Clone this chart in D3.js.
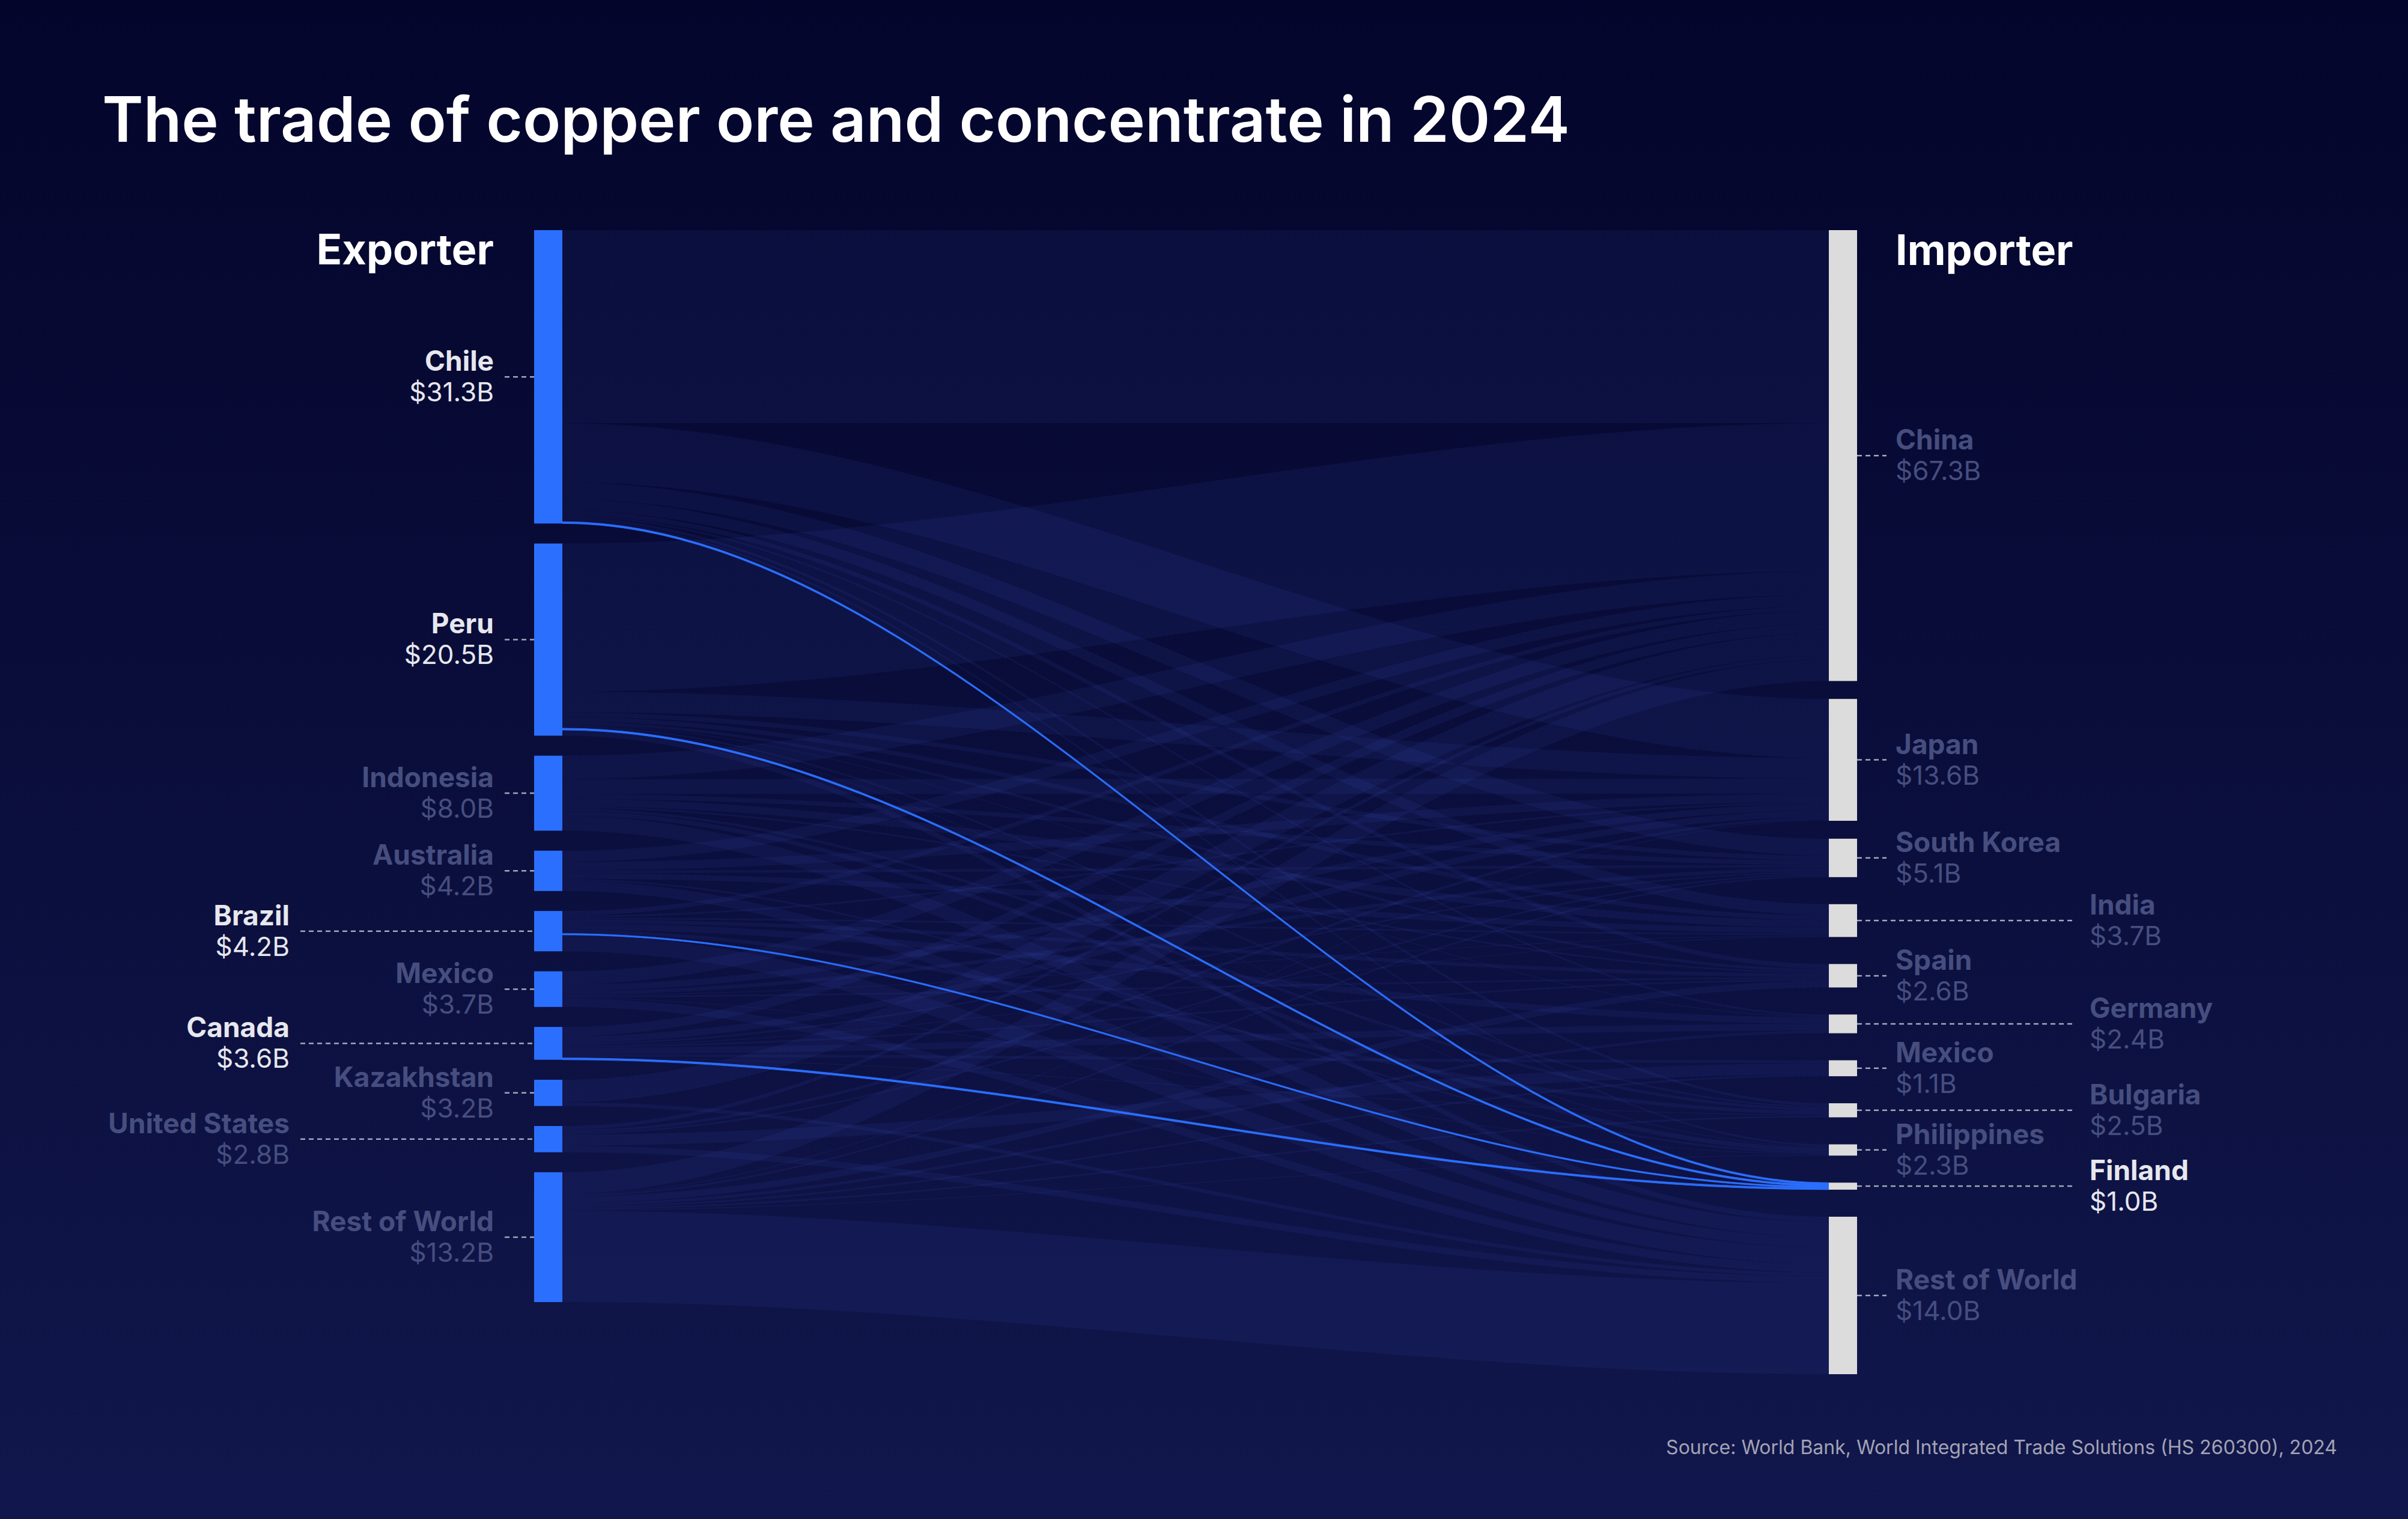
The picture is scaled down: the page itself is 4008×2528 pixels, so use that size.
<!DOCTYPE html>
<html><head><meta charset="utf-8">
<script src="https://cdn.jsdelivr.net/npm/d3@7"></script>
<style>html,body{margin:0;padding:0;background:#060930;} svg{display:block}</style>
</head><body>
<svg id="chart" width="4008" height="2528"></svg>
<script>
// ---------- DATA ----------
const title = "The trade of copper ore and concentrate in 2024";
const source = "Source: World Bank, World Integrated Trade Solutions (HS 260300), 2024";
const exporters = ["Chile","Peru","Indonesia","Australia","Brazil","Mexico","Canada","Kazakhstan","United States","Rest of World"];
const exporterLabels = ["$31.3B","$20.5B","$8.0B","$4.2B","$4.2B","$3.7B","$3.6B","$3.2B","$2.8B","$13.2B"];
const importers = ["China","Japan","South Korea","India","Spain","Germany","Mexico","Bulgaria","Philippines","Finland","Rest of World"];
const importerLabels = ["$67.3B","$13.6B","$5.1B","$3.7B","$2.6B","$2.4B","$1.1B","$2.5B","$2.3B","$1.0B","$14.0B"];
// flows (billion USD), one array per exporter, in importer order
const flowChile      = [20.6, 6.3, 1.8, 1.2, 0.5, 0.2, 0.0, 0.3, 0.2, 0.20, 0.0];
const flowPeru       = [15.8, 2.2, 0.5, 0.5, 0.3, 0.1, 0.0, 0.2, 0.1, 0.20, 0.6];
const flowIndonesia  = [ 2.5, 1.6, 0.5, 0.8, 0.2, 0.0, 0.0, 0.3, 0.5, 0.00, 1.6];
const flowAustralia  = [ 1.2, 0.9, 0.3, 0.6, 0.0, 0.0, 0.0, 0.0, 0.2, 0.00, 1.1];
const flowBrazil     = [ 0.5, 0.2, 0.0, 0.2, 0.4, 0.7, 0.0, 0.4, 0.0, 0.15, 1.75];
const flowMexico     = [ 1.4, 0.7, 0.4, 0.1, 0.2, 0.0, 0.0, 0.0, 0.1, 0.00, 0.9];
const flowCanada     = [ 1.0, 0.7, 0.2, 0.1, 0.2, 0.7, 0.3, 0.1, 0.0, 0.20, 0.0];
const flowKazakhstan = [ 2.4, 0.0, 0.0, 0.0, 0.0, 0.0, 0.0, 0.0, 0.0, 0.00, 0.4];
const flowUS         = [ 0.4, 0.3, 0.2, 0.0, 0.0, 0.0, 1.2, 0.0, 0.0, 0.00, 0.7];
const flowRoW        = [ 2.3, 0.1, 0.2, 0.0, 0.7, 0.3, 0.2, 0.2, 0.1, 0.00, 9.75];
const flows = [flowChile, flowPeru, flowIndonesia, flowAustralia, flowBrazil, flowMexico, flowCanada, flowKazakhstan, flowUS, flowRoW];
const highlightImporter = "Finland";

// ---------- LAYOUT ----------
const W = 4008, H = 2528;
const svg = d3.select("#chart");
const defs = svg.append("defs");
const bg = defs.append("linearGradient").attr("id","bg").attr("x1",0).attr("y1",0).attr("x2",0).attr("y2",1);
bg.append("stop").attr("offset","0%").attr("stop-color","#03052b");
bg.append("stop").attr("offset","40%").attr("stop-color","#090c38");
bg.append("stop").attr("offset","100%").attr("stop-color","#11174c");
svg.append("rect").attr("width",W).attr("height",H).attr("fill","url(#bg)");

const FONT = "Inter, 'Noto Sans', sans-serif";
const nodeW = 47;
const xCol = d3.scalePoint().domain(["exp","imp"]).range([889, 3044]);
const colTop = 383;
const leftBottom = 2167, rightBottom = 2287, rightPad = 45;
const ky = d3.scaleLinear().domain([0, 1]).range([0, 15.6]);

const expTotals = flows.map(r => d3.sum(r));
const impTotals = importers.map((_, j) => d3.sum(flows, r => r[j]));

// left: uniform padding between top and bottom
function stackUniform(totals, bottom) {
  const sumH = d3.sum(totals, v => ky(v));
  const pad = (bottom - colTop - sumH) / (totals.length - 1);
  let y = colTop;
  return totals.map(v => { const n = {y0: y, y1: y + ky(v)}; y = n.y1 + pad; return n; });
}
// right: stacked upward from the bottom with fixed padding; first node pinned to top,
// second node centred in the remaining space
function stackFromBottom(totals, bottom) {
  const nodes = totals.map(v => ({h: ky(v)}));
  let y = bottom;
  for (let k = nodes.length - 1; k >= 2; k--) { nodes[k].y1 = y; nodes[k].y0 = y - nodes[k].h; y = nodes[k].y0 - rightPad; }
  nodes[0].y0 = colTop; nodes[0].y1 = colTop + nodes[0].h;
  const free = nodes[2].y0 - nodes[0].y1 - nodes[1].h;
  nodes[1].y0 = nodes[0].y1 + free / 2; nodes[1].y1 = nodes[1].y0 + nodes[1].h;
  return nodes;
}
const expNodes = stackUniform(expTotals, leftBottom).map((n, i) => ({...n, name: exporters[i], label: exporterLabels[i], x0: xCol("exp"), x1: xCol("exp") + nodeW}));
const impNodes = stackFromBottom(impTotals, rightBottom).map((n, j) => ({...n, name: importers[j], label: importerLabels[j], x0: xCol("imp"), x1: xCol("imp") + nodeW}));

// links
const links = [];
flows.forEach((row, i) => row.forEach((v, j) => { if (v > 0) links.push({s: i, t: j, value: v}); }));
expNodes.forEach((n, i) => {
  let y = n.y0;
  links.filter(l => l.s === i).sort((a, b) => a.t - b.t).forEach(l => { l.ys0 = y; y += ky(l.value); l.ys1 = y; });
});
impNodes.forEach((n, j) => {
  let y = n.y0;
  links.filter(l => l.t === j).sort((a, b) => a.s - b.s).forEach(l => { l.yt0 = y; y += ky(l.value); l.yt1 = y; });
});
const hj = importers.indexOf(highlightImporter);
links.forEach(l => l.hl = (l.t === hj));
const hlSources = new Set(links.filter(l => l.hl).map(l => l.s));

function band(l) {
  const x0 = xCol("exp") + nodeW, x1 = xCol("imp");
  const c0 = x0 + (x1 - x0) / 3, c1 = x1 - (x1 - x0) / 3;
  const p = d3.path();
  p.moveTo(x0, l.ys0);
  p.bezierCurveTo(c0, l.ys0, c1, l.yt0, x1, l.yt0);
  p.lineTo(x1, l.yt1);
  p.bezierCurveTo(c1, l.yt1, c0, l.ys1, x0, l.ys1);
  p.closePath();
  return p.toString();
}

svg.append("g").selectAll("path").data(links.filter(l => !l.hl)).join("path")
  .attr("d", band).attr("fill", "#5a6dff").attr("fill-opacity", 0.07);
svg.append("g").selectAll("path").data(links.filter(l => l.hl)).join("path")
  .attr("d", band).attr("fill", "#2b6fff").attr("stroke", "#2b6fff").attr("stroke-width", 0.8);

// nodes
svg.append("g").selectAll("rect").data(expNodes).join("rect")
  .attr("x", d => d.x0).attr("y", d => d.y0).attr("width", nodeW).attr("height", d => d.y1 - d.y0).attr("fill", "#2b6fff");
svg.append("g").selectAll("rect").data(impNodes).join("rect")
  .attr("x", d => d.x0).attr("y", d => d.y0).attr("width", nodeW).attr("height", d => d.y1 - d.y0).attr("fill", "#dcdcdc");

// label column assignment (alternate to avoid overlap)
function assignColumns(nodes) {
  let lastNear = -Infinity;
  nodes.forEach(n => {
    n.cy = (n.y0 + n.y1) / 2;
    if (n.cy - lastNear < 115) n.far = true; else { n.far = false; lastNear = n.cy; }
  });
}
assignColumns(expNodes); assignColumns(impNodes);

const HI = "#e7e7ee", DIM = "#464e7f";
function drawLabels(nodes, side) {
  const g = svg.append("g");
  nodes.forEach((n, i) => {
    const hl = side === "exp" ? hlSources.has(i) : (i === hj);
    const col = hl ? HI : DIM;
    let tx, lx0, lx1, anchor;
    if (side === "exp") { anchor = "end"; tx = n.far ? 482 : 822; lx0 = n.far ? 500 : 840; lx1 = n.x0; }
    else { anchor = "start"; tx = n.far ? 3478 : 3155; lx0 = n.x1; lx1 = n.far ? 3455 : 3140; }
    g.append("line").attr("x1", lx0).attr("x2", lx1).attr("y1", n.cy).attr("y2", n.cy)
      .attr("stroke", "#a4a7b8").attr("stroke-width", 2.5).attr("stroke-dasharray", "8,6");
    g.append("text").attr("x", tx).attr("y", n.cy - 10).attr("text-anchor", anchor)
      .attr("font-family", FONT).attr("font-size", 46).attr("font-weight", 650).attr("fill", col).text(n.name);
    g.append("text").attr("x", tx).attr("y", n.cy + 41).attr("text-anchor", anchor)
      .attr("font-family", FONT).attr("font-size", 44).attr("font-weight", 400).attr("fill", col).text(n.label);
  });
}
drawLabels(expNodes, "exp"); drawLabels(impNodes, "imp");

// headers
svg.append("text").attr("x", 822).attr("y", 440).attr("text-anchor", "end").attr("font-family", FONT)
  .attr("font-size", 70).attr("font-weight", 700).attr("fill", "#ffffff").text("Exporter");
svg.append("text").attr("x", 3155).attr("y", 441).attr("text-anchor", "start").attr("font-family", FONT)
  .attr("font-size", 70).attr("font-weight", 700).attr("fill", "#ffffff").text("Importer");

// title & source
svg.append("text").attr("x", 170).attr("y", 236).attr("font-family", FONT).attr("font-size", 104)
  .attr("font-weight", 600).attr("fill", "#ffffff").text(title);
svg.append("text").attr("x", 3890).attr("y", 2420).attr("text-anchor", "end").attr("font-family", FONT)
  .attr("font-size", 32).attr("fill", "#a3a3b4").text(source);
</script>
</body></html>
